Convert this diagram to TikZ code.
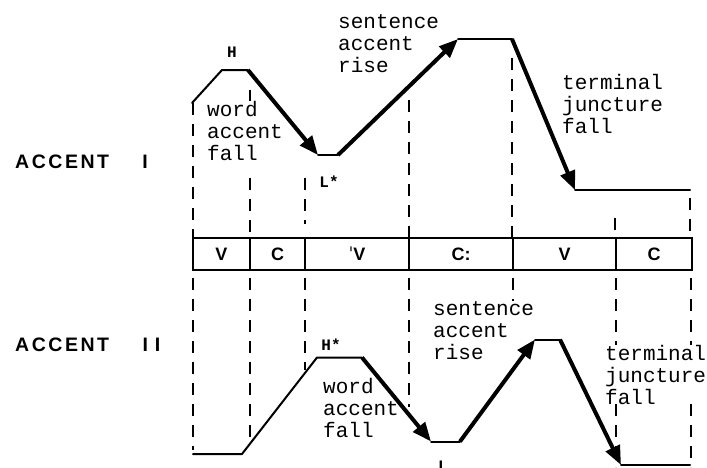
\documentclass[tikz,border=0pt]{standalone}
\usepackage{fontspec}
\setmainfont{Liberation Sans}
\newfontfamily\monofont{Liberation Mono}
\newfontfamily\accfont[LetterSpace=13]{Liberation Sans}
\newfontfamily\ipafont{DejaVu Sans}
\usetikzlibrary{arrows.meta}
\begin{document}
\begin{tikzpicture}[x=1pt,y=-1pt,
  contour/.style={line width=2pt, line join=round, line cap=round},
  mover/.style={line width=4pt, -{Triangle[length=19pt,width=15pt]}},
  guide/.style={line width=1.8pt, dash pattern=on 12pt off 9pt},
  cell/.style={draw, line width=1.8pt, minimum height=32pt, inner sep=0pt, font=\bfseries\fontsize{18}{18}\selectfont},
  note/.style={font=\monofont\fontsize{21}{22}\selectfont, align=left, anchor=base west, inner sep=0pt, fill=white},
  tone/.style={font=\monofont\bfseries\fontsize{16}{16}\selectfont, inner sep=0pt},
  acc/.style={font=\accfont\bfseries\fontsize{19.5}{20}\selectfont, inner sep=0pt},
]
\fill[white] (0,0) rectangle (707,467);
\useasboundingbox (0,0) rectangle (707,467);

% dashed guide lines above the segment row
\draw[guide] (193,103) -- (193,238);
\draw[guide] (250,90) -- (250,101) (250,178) -- (250,238);
\draw[guide] (305,178) -- (305,224);
\draw[guide] (409,100) -- (409,238);
\draw[guide] (512,58) -- (512,238);
\draw[guide] (615,218) -- (615,238);
\draw[guide] (690,198) -- (690,238);
% dashed guide lines below the segment row
\draw[guide] (193,278) -- (193,450);
\draw[guide] (250,278) -- (250,445);
\draw[guide] (305,278) -- (305,370);
\draw[guide] (409,278) -- (409,407);
\draw[guide] (513,278) -- (513,353);
\draw[guide] (616,278) -- (616,467);
\draw[guide] (691,278) -- (691,467);

% segment row
\node[cell, minimum width=57pt] (s1) at (221.5,254) {V};
\node[cell, minimum width=55pt] (s2) at (277.5,254) {C};
\node[cell, minimum width=104pt] (s3) at (357,254) {{\ipafont\mdseries ˈ}V};
\node[cell, minimum width=104pt] (s4) at (461,254) {C:};
\node[cell, minimum width=103pt] (s5) at (564.5,254) {V};
\node[cell, minimum width=76pt] (s6) at (654,254) {C};

% labels
\node[acc, anchor=west] (acc1) at (15,161.7) {ACCENT};
\node[acc] (num1) at (145,161.7) {I};
\node[acc, anchor=west] (acc2) at (15,345) {ACCENT};
\node[acc] (num2) at (151.5,345) {I\hspace{7pt}I};

\node[note] (wf1) at (207,160) {word\\accent\\fall};
\node[note] (sr1) at (338,72.5) {sentence\\accent\\rise};
\node[note] (tj1) at (562,133.5) {terminal\\juncture\\fall};
\node[note] (wf2) at (323,437) {word\\accent\\fall};
\node[note] (sr2) at (433,359) {sentence\\accent\\rise};
\node[note] (tj2) at (605,404) {terminal\\juncture\\fall};

\node[tone] (h1) at (232,52) {H};
\node[tone] (l1) at (329,182) {L*};
\node[tone] (h2) at (331,345) {H*};
\node[tone] (l2) at (443,466) {L};

% accent I contour
\coordinate (a1) at (192,103);
\coordinate (a2) at (222,70);
\coordinate (a3) at (248,70);
\coordinate (a4) at (318,155);
\coordinate (a5) at (338,155);
\coordinate (a6) at (458,39);
\coordinate (a7) at (512,39);
\coordinate (a8) at (575,190);
\coordinate (a9) at (690,190);
\draw[contour] (a1) -- (a2) -- (a3);
\draw[mover] (a3) -- (a4);
\draw[contour] (a4) -- (a5);
\draw[mover] (a5) -- (a6);
\draw[contour] (a6) -- (a7);
\draw[mover] (a7) -- (a8);
\draw[contour] (a8) -- (a9);

% accent II contour
\coordinate (b1) at (193,454);
\coordinate (b2) at (242,454);
\coordinate (b3) at (317,357.5);
\coordinate (b4) at (362,357.5);
\coordinate (b5) at (431,441.5);
\coordinate (b6) at (460,441.5);
\coordinate (b7) at (535,339.5);
\coordinate (b8) at (560,339.5);
\coordinate (b9) at (621,465);
\coordinate (b10) at (690,465);
\draw[contour] (b1) -- (b2) -- (b3) -- (b4);
\draw[mover] (b4) -- (b5);
\draw[contour] (b5) -- (b6);
\draw[mover] (b6) -- (b7);
\draw[contour] (b7) -- (b8);
\draw[mover] (b8) -- (b9);
\draw[contour] (b9) -- (b10);
\end{tikzpicture}
\end{document}
